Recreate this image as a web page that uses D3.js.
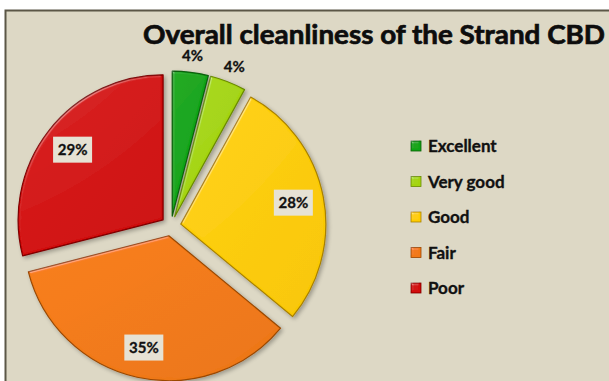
<!DOCTYPE html>
<html>
<head>
<meta charset="utf-8">
<script src="https://cdn.jsdelivr.net/npm/d3@7"></script>
<style>
  html, body { margin: 0; padding: 0; background: #ffffff; }
  svg { display: block; }
</style>
</head>
<body>
<svg id="chart" width="609" height="381"></svg>
<script>
// Survey results: overall cleanliness rating
const categories = ["Excellent", "Very good", "Good", "Fair", "Poor"];
const values = [4, 4, 28, 35, 29];
const sliceColors = ["#10a414", "#a4d40a", "#ffcc02", "#f27914", "#d20808"];
const edgeColors = ["#0a5e0c", "#6a8a06", "#a88000", "#9a4806", "#7e0404"];
const title = "Overall cleanliness of the Strand CBD";

const W = 609, H = 381;
const svg = d3.select("#chart");

// frame
svg.append("rect").attr("x", 0).attr("y", 0).attr("width", W).attr("height", H).attr("fill", "#ffffff");
svg.append("rect")
  .attr("x", 5.5).attr("y", 10.5).attr("width", W + 10).attr("height", H + 10)
  .attr("fill", "#ddd8c5").attr("stroke", "#5b5646").attr("stroke-width", 2);

const defs = svg.append("defs");

// narrow bevel highlight along the slice edges
const bevel = defs.append("filter").attr("id", "bevel")
  .attr("x", "-10%").attr("y", "-10%").attr("width", "120%").attr("height", "120%");
bevel.append("feGaussianBlur").attr("in", "SourceAlpha").attr("stdDeviation", 1.3).attr("result", "blur");
const spec = bevel.append("feSpecularLighting").attr("in", "blur")
  .attr("surfaceScale", 2.5).attr("specularConstant", 0.45).attr("specularExponent", 22)
  .attr("lighting-color", "#ffffff").attr("result", "spec");
spec.append("fePointLight").attr("x", -300).attr("y", -400).attr("z", 240);
bevel.append("feComposite").attr("in", "spec").attr("in2", "SourceAlpha").attr("operator", "in").attr("result", "specIn");
bevel.append("feComposite").attr("in", "SourceGraphic").attr("in2", "specIn")
  .attr("operator", "arithmetic").attr("k1", 0).attr("k2", 1).attr("k3", 0.45).attr("k4", 0);

// soft shadow under the pie
const shadow = defs.append("filter").attr("id", "shadow")
  .attr("x", "-20%").attr("y", "-20%").attr("width", "140%").attr("height", "140%");
shadow.append("feGaussianBlur").attr("in", "SourceAlpha").attr("stdDeviation", 2.2).attr("result", "b");
shadow.append("feOffset").attr("in", "b").attr("dx", 1.5).attr("dy", 2).attr("result", "o");
shadow.append("feComponentTransfer").attr("in", "o").attr("result", "s")
  .append("feFuncA").attr("type", "linear").attr("slope", 0.3);
const sm = shadow.append("feMerge");
sm.append("feMergeNode").attr("in", "s");
sm.append("feMergeNode").attr("in", "SourceGraphic");

// face gradients
categories.forEach((c, i) => {
  const g = defs.append("linearGradient").attr("id", "grad" + i)
    .attr("x1", "0%").attr("y1", "0%").attr("x2", "100%").attr("y2", "100%");
  g.append("stop").attr("offset", "0%").attr("stop-color", d3.color(sliceColors[i]).brighter(0.08));
  g.append("stop").attr("offset", "100%").attr("stop-color", d3.color(sliceColors[i]).darker(0.08));
});

// pie geometry
const cx = 171, cy = 226, R = 145, explode = 10;
const pie = d3.pie().sort(null).value(d => d.value);
const data = pie(categories.map((c, i) => ({ name: c, value: values[i], i })));
const arc = d3.arc().innerRadius(0).outerRadius(R);
const mid = d => (d.startAngle + d.endAngle) / 2;
const shift = (d, r) => [Math.sin(mid(d)) * r, -Math.cos(mid(d)) * r];

const pieG = svg.append("g").attr("transform", `translate(${cx},${cy})`);
const slices = pieG.selectAll("g.slice").data(data).join("g")
  .attr("class", "slice")
  .attr("transform", d => `translate(${shift(d, explode)})`)
  .attr("filter", "url(#shadow)");
slices.append("path")
  .attr("d", arc)
  .attr("fill", d => `url(#grad${d.data.i})`)
  .attr("stroke", d => edgeColors[d.data.i])
  .attr("stroke-width", 1.2)
  .attr("stroke-linejoin", "round")
  .attr("filter", "url(#bevel)");

// percentage labels
const font = "Lato, 'Open Sans', sans-serif";
const labelG = pieG.append("g");
data.forEach(d => {
  const small = d.data.value < 10;
  const off = shift(d, explode);
  const lr = small ? R * 1.115 : R * 0.79;
  const [lx, ly] = shift(d, lr);
  const x = lx + off[0], y = ly + off[1];
  const g = labelG.append("g").attr("transform", `translate(${x},${y})`);
  if (!small) {
    g.append("rect").attr("x", -19.5).attr("y", -13).attr("width", 39).attr("height", 26)
      .attr("fill", "#e6e2d4");
  }
  g.append("text")
    .attr("text-anchor", "middle").attr("dy", "0.36em")
    .attr("font-family", font).attr("font-weight", 700).attr("font-size", 15)
    .attr("stroke", "#111").attr("stroke-width", 0.3)
    .attr("fill", "#111").text(d.data.value + "%");
});

// title
svg.append("text")
  .attr("x", 143).attr("y", 44)
  .attr("font-family", font).attr("font-weight", 700).attr("font-size", 27)
  .attr("textLength", 462).attr("lengthAdjust", "spacingAndGlyphs")
  .attr("stroke", "#0d0d0d").attr("stroke-width", 0.7)
  .attr("fill", "#0d0d0d").text(title);

// legend
const legY = d3.scalePoint().domain(categories).range([146, 288]);
const leg = svg.append("g").selectAll("g").data(categories).join("g")
  .attr("transform", d => `translate(411,${legY(d)})`);
leg.append("rect").attr("x", 0).attr("y", -5).attr("width", 10).attr("height", 10)
  .attr("fill", (d, i) => sliceColors[i])
  .attr("stroke", (d, i) => edgeColors[i]).attr("stroke-width", 0.8)
  .attr("filter", "url(#bevel)");
leg.append("text").attr("x", 17).attr("dy", "0.36em")
  .attr("font-family", font).attr("font-weight", 700).attr("font-size", 17)
  .attr("stroke", "#111").attr("stroke-width", 0.35)
  .attr("fill", "#111").text(d => d);
</script>
</body>
</html>
